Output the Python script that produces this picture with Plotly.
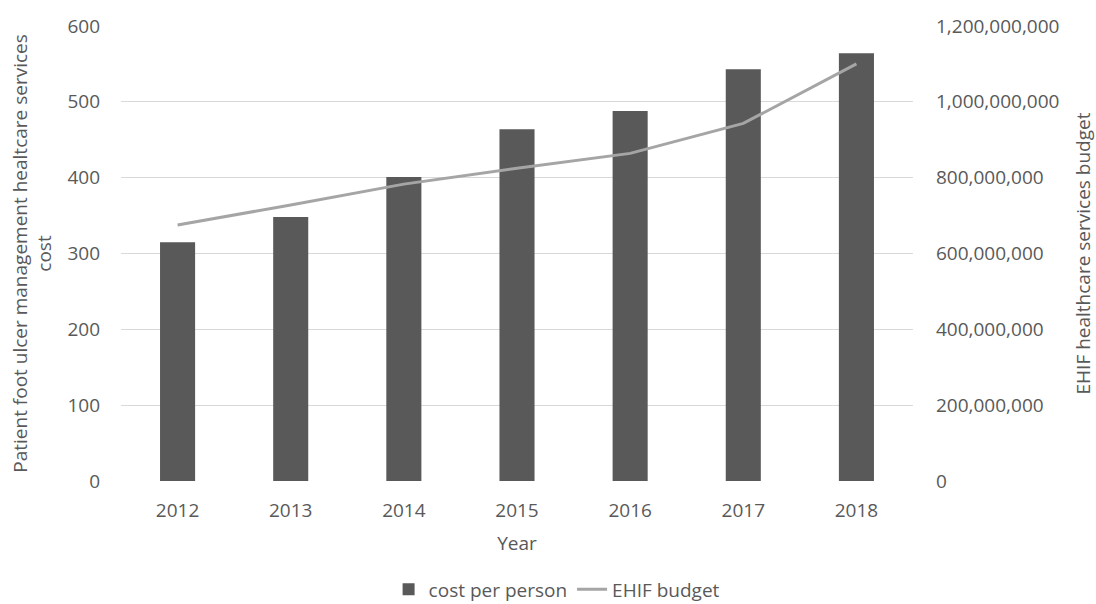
import plotly.graph_objects as go

years = ["2012", "2013", "2014", "2015", "2016", "2017", "2018"]
cost_per_person = [315, 348, 401, 464, 488, 543, 564]
ehif_budget = [675e6, 728e6, 783e6, 825e6, 864e6, 943e6, 1100e6]

font_family = "Open Sans, Liberation Sans, sans-serif"
text_color = "#595959"
grid_color = "#d9d9d9"
fs = 19

fig = go.Figure()
fig.add_trace(go.Bar(
    x=years, y=cost_per_person, name="cost per person",
    marker=dict(color="#595959", line=dict(width=0)),
    width=0.31, yaxis="y",
))
fig.add_trace(go.Scatter(
    x=years, y=ehif_budget, name="EHIF budget", mode="lines",
    line=dict(color="#a5a5a5", width=3), yaxis="y2",
))

fig.update_layout(
    width=1096, height=604,
    margin=dict(l=121, r=183, t=26, b=123, autoexpand=False),
    paper_bgcolor="white", plot_bgcolor="white",
    font=dict(family=font_family, size=fs, color=text_color),
    showlegend=True,
    legend=dict(orientation="h", x=0.55, xanchor="center", y=-0.238, yanchor="middle",
                font=dict(size=fs, color=text_color), traceorder="normal"),
    xaxis=dict(
        type="category", showgrid=False, zeroline=False, showline=False,
        ticks="", ticklabelstandoff=16, automargin=False,
        title=dict(text="Year", standoff=14, font=dict(size=fs, color=text_color)),
    ),
    yaxis=dict(
        range=[0, 600], dtick=100, showgrid=True, gridcolor=grid_color, gridwidth=1,
        zeroline=False, showline=False, ticks="", ticklabelstandoff=20, automargin=False,
        title=dict(text="Patient foot ulcer management healtcare services<br>cost",
                   standoff=10, font=dict(size=fs, color=text_color)),
    ),
    yaxis2=dict(
        overlaying="y", side="right", range=[0, 1.2e9], dtick=2e8,
        showgrid=False, zeroline=False, showline=False, ticks="", automargin=False,
        tickformat=",d", ticklabelstandoff=22,
        title=dict(text="EHIF healthcare services budget", standoff=20,
                   font=dict(size=fs, color=text_color)),
    ),
)

fig.write_html("out.html")
